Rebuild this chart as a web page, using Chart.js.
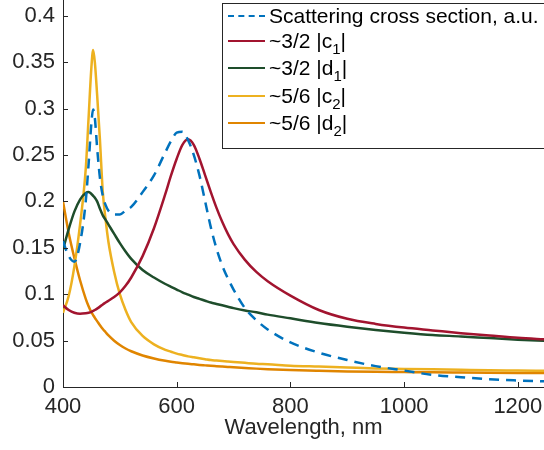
<!DOCTYPE html>
<html>
<head>
<meta charset="utf-8">
<script src="https://cdn.jsdelivr.net/npm/chart.js@4.4.1/dist/chart.umd.min.js"></script>
<style>
html, body { margin: 0; padding: 0; background: #fff; overflow: hidden; }
#wrap { position: relative; width: 544px; height: 450px; }
#legend {
    position: absolute; left: 222px; top: 3px; width: 330px; height: 144px;
    border: 1px solid #262626; background: #fff;
    font-family: "Liberation Sans", Arial, sans-serif; font-size: 21px; color: #000;
}
.row { position: absolute; left: 0; height: 28px; display: flex; align-items: center; white-space: nowrap; }
.swatch { width: 37px; margin-left: 5px; margin-right: 4px; height: 0; border-top: 2.5px solid; }
sub { font-size: 15px; vertical-align: -6px; line-height: 0; }
</style>
</head>
<body>
<div id="wrap">
    <canvas id="chart" width="544" height="450"></canvas>
    <div id="legend"></div>
</div>
<script>

// wavelength grid, nm
const wavelengths = [400, 410, 420, 430, 440, 445, 450, 453, 456, 460, 465, 470, 475, 480, 490, 500, 510, 520, 540, 560,
    580, 590, 600, 610, 620, 630, 640, 650, 660, 670, 680, 690, 700, 720, 740, 760, 800, 850, 900, 950,
    1000, 1050, 1100, 1150, 1200, 1250];

const scattering = [0.157, 0.141, 0.135, 0.155, 0.2, 0.24, 0.285, 0.299, 0.29, 0.258, 0.225, 0.206, 0.196, 0.19, 0.186, 0.186, 0.19, 0.194, 0.21, 0.228,
    0.253, 0.265, 0.274, 0.275, 0.266, 0.25, 0.228, 0.2, 0.172, 0.149, 0.131, 0.117, 0.105, 0.085, 0.072, 0.062, 0.048, 0.037, 0.029, 0.0225,
    0.0177, 0.013, 0.0105, 0.0083, 0.007, 0.006];

const c1 = [0.088, 0.083, 0.08, 0.079, 0.0795, 0.08, 0.081, 0.082, 0.083, 0.0845, 0.0866, 0.089, 0.091, 0.093, 0.097, 0.102, 0.109, 0.118, 0.141, 0.171,
    0.208, 0.228, 0.246, 0.261, 0.267, 0.261, 0.246, 0.228, 0.21, 0.193, 0.178, 0.165, 0.154, 0.137, 0.124, 0.114, 0.0985, 0.083, 0.0735, 0.068,
    0.064, 0.061, 0.058, 0.0555, 0.053, 0.0512];

const d1 = [0.148, 0.17, 0.189, 0.202, 0.209, 0.21, 0.208, 0.206, 0.204, 0.2, 0.192, 0.185, 0.18, 0.175, 0.165, 0.155, 0.146, 0.138, 0.126, 0.118,
    0.111, 0.108, 0.105, 0.102, 0.0995, 0.097, 0.095, 0.093, 0.091, 0.0895, 0.088, 0.0865, 0.085, 0.0825, 0.0805, 0.078, 0.074, 0.069, 0.065, 0.0615,
    0.0585, 0.056, 0.0545, 0.0527, 0.051, 0.0496];

const c2 = [0.08, 0.098, 0.13, 0.175, 0.235, 0.29, 0.345, 0.363, 0.35, 0.315, 0.266, 0.21, 0.18, 0.156, 0.124, 0.1, 0.083, 0.07, 0.055, 0.046,
    0.04, 0.038, 0.036, 0.0345, 0.033, 0.032, 0.031, 0.03, 0.029, 0.0285, 0.028, 0.0275, 0.027, 0.026, 0.025, 0.0245, 0.023, 0.022, 0.021, 0.02,
    0.0195, 0.019, 0.0185, 0.018, 0.0178, 0.0175];

const d2 = [0.2, 0.166, 0.139, 0.115, 0.095, 0.087, 0.0805, 0.0775, 0.0745, 0.071, 0.0665, 0.0625, 0.059, 0.0555, 0.0498, 0.0452, 0.0415, 0.0385, 0.034, 0.0308,
    0.0283, 0.0273, 0.0265, 0.0257, 0.025, 0.0244, 0.0238, 0.0233, 0.0228, 0.0224, 0.022, 0.0216, 0.0212, 0.0205, 0.0198, 0.0192, 0.0182, 0.0174, 0.0168, 0.0164,
    0.0161, 0.0158, 0.0156, 0.0154, 0.0152, 0.015];

const seriesLabels = [
    "Scattering cross section, a.u.",
    "~3/2 |c1|",
    "~3/2 |d1|",
    "~5/6 |c2|",
    "~5/6 |d2|"
];

const seriesValues = [scattering, c1, d1, c2, d2];

const seriesColors = ["#0072BD", "#A2142F", "#1E4D2B", "#EDB120", "#E08500"];

const FONT = "'Liberation Sans', Arial, sans-serif";
const AXIS = "#262626";

// matlab style ticks pointing into the plot
const inwardTicks = {
    id: "inwardTicks",
    afterDraw(chart) {
        const { ctx, chartArea, scales } = chart;
        ctx.save();
        ctx.strokeStyle = AXIS;
        ctx.lineWidth = 1;
        ctx.beginPath();
        scales.x.ticks.forEach(t => {
            const x = Math.round(scales.x.getPixelForValue(t.value)) + 0.5;
            ctx.moveTo(x, chartArea.bottom);
            ctx.lineTo(x, chartArea.bottom - 5);
        });
        scales.y.ticks.forEach(t => {
            const y = Math.round(scales.y.getPixelForValue(t.value)) + 0.5;
            ctx.moveTo(chartArea.left, y);
            ctx.lineTo(chartArea.left + 5, y);
        });
        ctx.stroke();
        ctx.restore();
    }
};

const datasets = seriesValues.map((vals, i) => ({
    label: seriesLabels[i],
    data: wavelengths.map((w, j) => ({ x: w, y: vals[j] })),
    borderColor: seriesColors[i],
    borderWidth: 2.5,
    borderDash: i === 0 ? [10, 7] : [],
    pointRadius: 0,
    cubicInterpolationMode: "monotone",
    fill: false
}));

new Chart(document.getElementById("chart"), {
    type: "line",
    data: { datasets },
    options: {
        responsive: false,
        animation: false,
        layout: { padding: 0 },
        plugins: { legend: { display: false }, tooltip: { enabled: false } },
        scales: {
            x: {
                type: "linear",
                min: 400,
                max: 1246,
                afterFit(scale) {
                    scale.height = 63;
                    scale.paddingLeft = 0;
                    scale.paddingRight = 0;
                },
                grid: { display: true, drawOnChartArea: false, drawTicks: false },
                border: { display: true, color: AXIS, width: 1 },
                ticks: {
                    stepSize: 200,
                    includeBounds: false,
                    padding: 7,
                    color: AXIS,
                    font: { family: FONT, size: 22 },
                    maxRotation: 0,
                    callback: v => String(v)
                },
                title: {
                    display: true,
                    text: "Wavelength, nm",
                    color: AXIS,
                    font: { family: FONT, size: 22 },
                    padding: { top: 0, bottom: 9 }
                }
            },
            y: {
                min: 0,
                max: 0.417,
                afterFit(scale) {
                    scale.width = 63;
                    scale.paddingTop = 0;
                    scale.paddingBottom = 0;
                },
                grid: { display: true, drawOnChartArea: false, drawTicks: false },
                border: { display: true, color: AXIS, width: 1 },
                ticks: {
                    stepSize: 0.05,
                    includeBounds: false,
                    padding: 8,
                    color: AXIS,
                    font: { family: FONT, size: 22 },
                    callback: v => String(Number(v.toFixed(2)))
                }
            }
        }
    },
    plugins: [inwardTicks]
});

// legend drawn as html over the plot
const legend = document.getElementById("legend");
seriesLabels.forEach((label, i) => {
    const row = document.createElement("div");
    row.className = "row";
    row.style.top = (i === 0 ? -2 : -5 + i * 27.5) + "px";
    const sw = document.createElement("span");
    sw.className = "swatch";
    sw.style.borderTopColor = seriesColors[i];
    if (i === 0) sw.style.borderTopStyle = "dashed";
    const txt = document.createElement("span");
    txt.innerHTML = label.replace(/([cd])(\d)\|/, "$1<sub>$2</sub>|");
    row.appendChild(sw);
    row.appendChild(txt);
    legend.appendChild(row);
});

</script>
</body>
</html>
